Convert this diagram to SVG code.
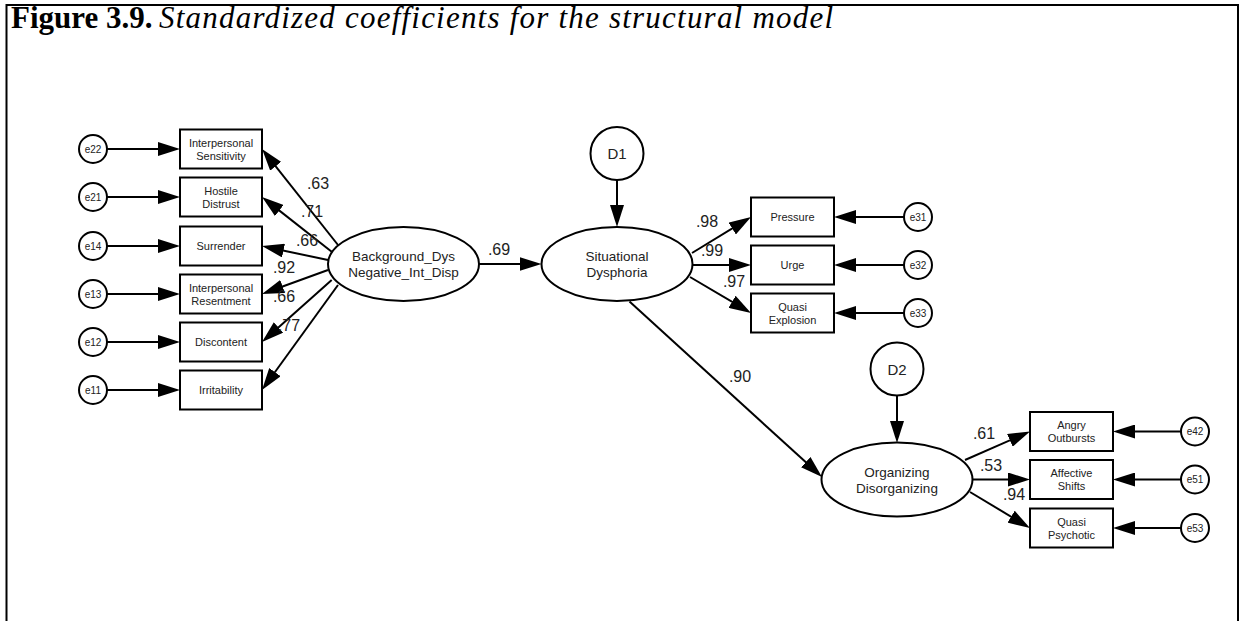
<svg xmlns="http://www.w3.org/2000/svg" width="1239" height="621" viewBox="0 0 1239 621">
  <style>
    .frame { fill: none; stroke: #000; stroke-width: 2; }
    .box { fill: #fff; stroke: #000; stroke-width: 2; }
    .lat { fill: #fff; stroke: #000; stroke-width: 2; }
    .err { fill: #fff; stroke: #000; stroke-width: 2; }
    .edge { stroke: #000; stroke-width: 2; fill: none; marker-end: url(#head); }
    .t-box { font-family: "Liberation Sans", Arial, sans-serif; font-size: 11px; fill: #222; text-anchor: middle; }
    .t-lat { font-family: "Liberation Sans", Arial, sans-serif; font-size: 13.5px; fill: #222; text-anchor: middle; }
    .t-err { font-family: "Liberation Sans", Arial, sans-serif; font-size: 10px; fill: #222; text-anchor: middle; }
    .t-dist { font-family: "Liberation Sans", Arial, sans-serif; font-size: 15px; fill: #222; text-anchor: middle; }
    .t-coef { font-family: "Liberation Sans", Arial, sans-serif; font-size: 16px; fill: #222; text-anchor: middle; }
    .title { font-family: "Liberation Serif", "Times New Roman", serif; font-size: 31px; fill: #000; }
  </style>
  <defs>
    <marker id="head" markerUnits="userSpaceOnUse" markerWidth="22" markerHeight="14" refX="14" refY="7" orient="auto">
      <path d="M0,0 L22,7 L0,14 Z" fill="#000"/>
    </marker>
  </defs>

  <rect width="1239" height="621" fill="#fff"/>
  <!-- page frame (open at the bottom) -->
  <path class="frame" d="M6.5,640 V5 H1238 V640"/>

  <text class="title" x="11" y="28" font-weight="bold">Figure 3.9.</text>
  <text class="title" x="159" y="28" font-style="italic" font-size="30" textLength="674" lengthAdjust="spacing">Standardized coefficients for the structural model</text>

  <!-- connectors -->
  <g id="connectors">
    <!-- residuals, left block -->
    <line class="edge" x1="107" y1="149" x2="172" y2="149"/>
    <line class="edge" x1="107" y1="197" x2="172" y2="197"/>
    <line class="edge" x1="107" y1="246" x2="172" y2="246"/>
    <line class="edge" x1="107" y1="294" x2="172" y2="294"/>
    <line class="edge" x1="107" y1="342" x2="172" y2="342"/>
    <line class="edge" x1="107" y1="390" x2="172" y2="390"/>
    <!-- loadings of Background_Dys -->
    <line class="edge" x1="338" y1="245" x2="267" y2="155.3"/>
    <line class="edge" x1="331.7" y1="251.7" x2="268.3" y2="201.9"/>
    <line class="edge" x1="328" y1="260" x2="269.8" y2="247.7"/>
    <line class="edge" x1="328" y1="270" x2="269.5" y2="291.3"/>
    <line class="edge" x1="331.7" y1="280" x2="268" y2="336.7"/>
    <line class="edge" x1="338" y1="285" x2="266.7" y2="383.5"/>
    <!-- structural paths -->
    <line class="edge" x1="479" y1="264" x2="533.5" y2="264"/>
    <line class="edge" x1="617" y1="180" x2="617" y2="219"/>
    <line class="edge" x1="629.5" y1="301.5" x2="816.1" y2="471.6"/>
    <line class="edge" x1="897" y1="395.5" x2="897" y2="435"/>
    <!-- loadings of Situational Dysphoria -->
    <line class="edge" x1="692" y1="253" x2="744.2" y2="221.2"/>
    <line class="edge" x1="692.5" y1="265" x2="743" y2="265"/>
    <line class="edge" x1="690" y1="277" x2="744.1" y2="308.9"/>
    <!-- residuals, upper right block -->
    <line class="edge" x1="904" y1="217" x2="842" y2="217"/>
    <line class="edge" x1="904" y1="265" x2="842" y2="265"/>
    <line class="edge" x1="904" y1="313" x2="842" y2="313"/>
    <!-- loadings of Organizing Disorganizing -->
    <line class="edge" x1="965" y1="460" x2="1022.7" y2="434.7"/>
    <line class="edge" x1="972.3" y1="479.5" x2="1022" y2="479.5"/>
    <line class="edge" x1="970" y1="492" x2="1023.1" y2="523.9"/>
    <!-- residuals, lower right block -->
    <line class="edge" x1="1181" y1="431.5" x2="1121" y2="431.5"/>
    <line class="edge" x1="1181" y1="479.5" x2="1121" y2="479.5"/>
    <line class="edge" x1="1181" y1="528" x2="1121" y2="528"/>
  </g>

  <!-- path coefficients -->
  <g id="coefficients">
    <text class="t-coef" x="318" y="189">.63</text>
    <text class="t-coef" x="312" y="217">.71</text>
    <text class="t-coef" x="307" y="246">.66</text>
    <text class="t-coef" x="284" y="273">.92</text>
    <text class="t-coef" x="284" y="302">.66</text>
    <text class="t-coef" x="289" y="331">.77</text>
    <text class="t-coef" x="499" y="255">.69</text>
    <text class="t-coef" x="707" y="227">.98</text>
    <text class="t-coef" x="712" y="256">.99</text>
    <text class="t-coef" x="734" y="287">.97</text>
    <text class="t-coef" x="740" y="382">.90</text>
    <text class="t-coef" x="984" y="439">.61</text>
    <text class="t-coef" x="991" y="471">.53</text>
    <text class="t-coef" x="1014" y="500">.94</text>
  </g>

  <!-- left residual circles -->
  <g id="e22"><circle class="err" cx="93" cy="149" r="14"/><text class="t-err" x="93" y="152.5">e22</text></g>
  <g id="e21"><circle class="err" cx="93" cy="197" r="14"/><text class="t-err" x="93" y="200.5">e21</text></g>
  <g id="e14"><circle class="err" cx="93" cy="246" r="14"/><text class="t-err" x="93" y="249.5">e14</text></g>
  <g id="e13"><circle class="err" cx="93" cy="294" r="14"/><text class="t-err" x="93" y="297.5">e13</text></g>
  <g id="e12"><circle class="err" cx="93" cy="342" r="14"/><text class="t-err" x="93" y="345.5">e12</text></g>
  <g id="e11"><circle class="err" cx="93" cy="390" r="14"/><text class="t-err" x="93" y="393.5">e11</text></g>

  <!-- left indicators -->
  <g id="interpersonal-sensitivity"><rect class="box" x="180" y="129.5" width="82" height="39"/><text class="t-box" x="221" y="146.5">Interpersonal</text><text class="t-box" x="221" y="159.5">Sensitivity</text></g>
  <g id="hostile-distrust"><rect class="box" x="180" y="177.5" width="82" height="39"/><text class="t-box" x="221" y="194.5">Hostile</text><text class="t-box" x="221" y="207.5">Distrust</text></g>
  <g id="surrender"><rect class="box" x="180" y="226.5" width="82" height="39"/><text class="t-box" x="221" y="250">Surrender</text></g>
  <g id="interpersonal-resentment"><rect class="box" x="180" y="274.5" width="82" height="39"/><text class="t-box" x="221" y="291.5">Interpersonal</text><text class="t-box" x="221" y="304.5">Resentment</text></g>
  <g id="discontent"><rect class="box" x="180" y="322.5" width="82" height="39"/><text class="t-box" x="221" y="346">Discontent</text></g>
  <g id="irritability"><rect class="box" x="180" y="370.5" width="82" height="39"/><text class="t-box" x="221" y="394">Irritability</text></g>

  <!-- latent factors -->
  <g id="background-dys"><ellipse class="lat" cx="403.5" cy="264" rx="75.5" ry="37"/><text class="t-lat" x="403.5" y="261">Background_Dys</text><text class="t-lat" x="403.5" y="277">Negative_Int_Disp</text></g>
  <g id="situational-dysphoria"><ellipse class="lat" cx="617" cy="264" rx="75.5" ry="37"/><text class="t-lat" x="617" y="261">Situational</text><text class="t-lat" x="617" y="277">Dysphoria</text></g>
  <g id="organizing-disorganizing"><ellipse class="lat" cx="897" cy="479.5" rx="75.5" ry="37"/><text class="t-lat" x="897" y="476.5">Organizing</text><text class="t-lat" x="897" y="492.5">Disorganizing</text></g>

  <!-- disturbances -->
  <g id="D1"><circle class="err" cx="617" cy="153.5" r="26.5"/><text class="t-dist" x="617" y="159">D1</text></g>
  <g id="D2"><circle class="err" cx="897" cy="369" r="26.5"/><text class="t-dist" x="897" y="374.5">D2</text></g>

  <!-- upper right indicators -->
  <g id="pressure"><rect class="box" x="751" y="197.5" width="83" height="39"/><text class="t-box" x="792.5" y="221">Pressure</text></g>
  <g id="urge"><rect class="box" x="751" y="245.5" width="83" height="39"/><text class="t-box" x="792.5" y="269">Urge</text></g>
  <g id="quasi-explosion"><rect class="box" x="751" y="293.5" width="83" height="39"/><text class="t-box" x="792.5" y="310.5">Quasi</text><text class="t-box" x="792.5" y="323.5">Explosion</text></g>

  <g id="e31"><circle class="err" cx="918" cy="217" r="14"/><text class="t-err" x="918" y="220.5">e31</text></g>
  <g id="e32"><circle class="err" cx="918" cy="265" r="14"/><text class="t-err" x="918" y="268.5">e32</text></g>
  <g id="e33"><circle class="err" cx="918" cy="313" r="14"/><text class="t-err" x="918" y="316.5">e33</text></g>

  <!-- lower right indicators -->
  <g id="angry-outbursts"><rect class="box" x="1030" y="412" width="83" height="39"/><text class="t-box" x="1071.5" y="429">Angry</text><text class="t-box" x="1071.5" y="442">Outbursts</text></g>
  <g id="affective-shifts"><rect class="box" x="1030" y="460" width="83" height="39"/><text class="t-box" x="1071.5" y="477">Affective</text><text class="t-box" x="1071.5" y="490">Shifts</text></g>
  <g id="quasi-psychotic"><rect class="box" x="1030" y="508.5" width="83" height="39"/><text class="t-box" x="1071.5" y="525.5">Quasi</text><text class="t-box" x="1071.5" y="538.5">Psychotic</text></g>

  <g id="e42"><circle class="err" cx="1195" cy="431.5" r="14"/><text class="t-err" x="1195" y="435">e42</text></g>
  <g id="e51"><circle class="err" cx="1195" cy="479.5" r="14"/><text class="t-err" x="1195" y="483">e51</text></g>
  <g id="e53"><circle class="err" cx="1195" cy="528" r="14"/><text class="t-err" x="1195" y="531.5">e53</text></g>
</svg>
